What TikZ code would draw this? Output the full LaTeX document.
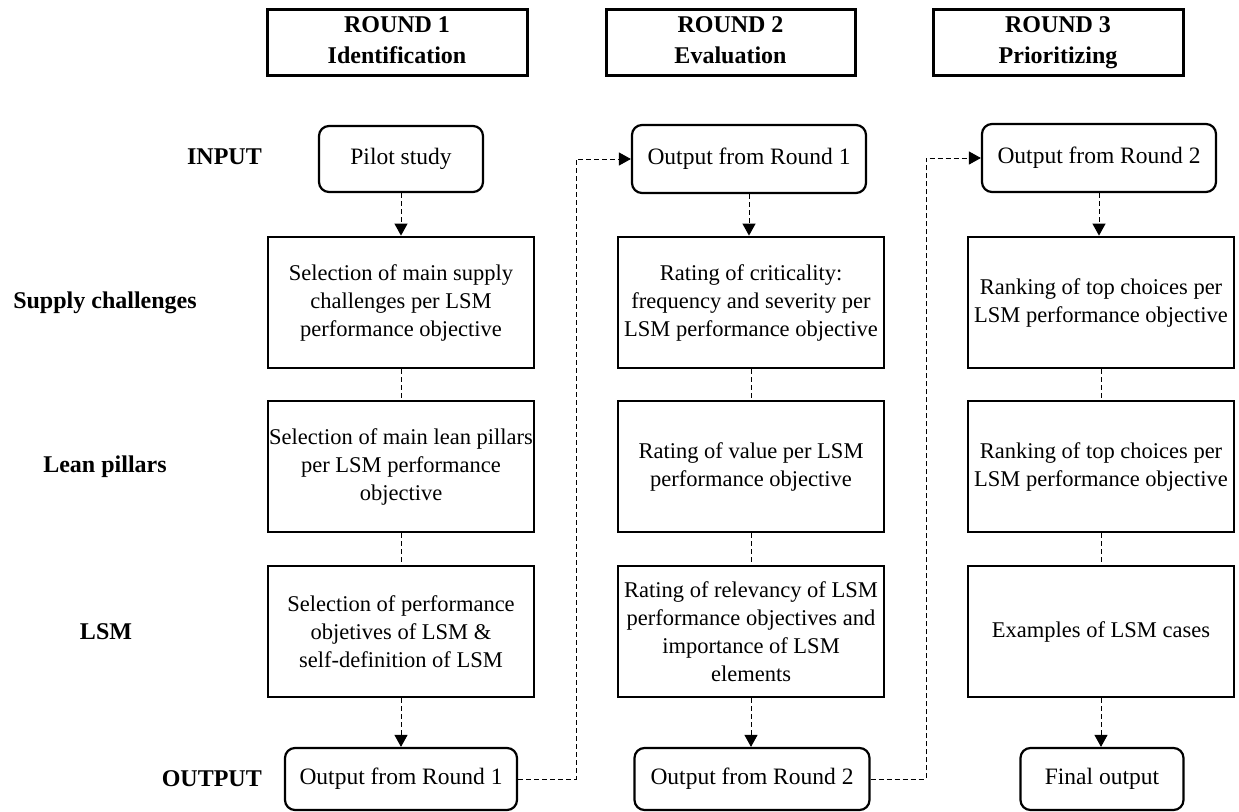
\documentclass[tikz,border=0pt]{standalone}
\usepackage{fontspec}
\setmainfont{Liberation Serif}
\usetikzlibrary{arrows.meta}
\begin{document}
\begin{tikzpicture}[x=1pt,y=-1pt,
 mainbox/.style={draw, line width=2.8pt, minimum width=266pt, minimum height=131pt, align=center, inner sep=0pt, font=\fontsize{22.5}{28}\selectfont},
 roundbox/.style={draw, line width=2.2pt, rounded corners=10pt, align=center, inner sep=0pt, font=\fontsize{23.5}{28}\selectfont},
 headbox/.style={draw, line width=3pt, align=center, inner sep=0pt, minimum height=66pt, font=\bfseries\fontsize{24}{31}\selectfont},
 rowlabel/.style={inner sep=0pt, font=\bfseries\fontsize{24}{28}\selectfont},
 dashline/.style={line width=1pt, dash pattern=on 5pt off 3pt},
 dasharrow/.style={dashline, -{Triangle[width=13pt,length=12pt]}},
]
\useasboundingbox (0,0) rectangle (1239,811);

% headers
\node[headbox, minimum width=260pt] (h1) at (397,42) {ROUND 1\strut\\Identification\strut};
\node[headbox, minimum width=249pt] (h2) at (730.5,42) {ROUND 2\strut\\Evaluation\strut};
\node[headbox, minimum width=250pt] (h3) at (1058,42) {ROUND 3\strut\\Prioritizing\strut};

% row labels
\node[rowlabel, anchor=east] (linput) at (262,157) {INPUT};
\node[rowlabel] (lsupply) at (105,302.5) {Supply challenges};
\node[rowlabel] (llean) at (105,466.5) {Lean pillars};
\node[rowlabel] (llsm) at (106,631.5) {LSM};
\node[rowlabel, anchor=east] (loutput) at (262,779) {OUTPUT};

% input boxes
\node[roundbox, minimum width=164pt, minimum height=66pt] (pilot) at (401,159) {Pilot study};
\node[roundbox, minimum width=234pt, minimum height=68pt] (outA) at (749,159) {Output from Round 1};
\node[roundbox, minimum width=234pt, minimum height=68pt] (outB) at (1099,158) {Output from Round 2};

% column 1
\node[mainbox] (a1) at (401,302.5) {Selection of main supply\\challenges per LSM\\performance objective};
\node[mainbox] (a2) at (401,466.5) {Selection of main lean pillars\\per LSM performance\\objective};
\node[mainbox] (a3) at (401,631.5) {Selection of performance\\objetives of LSM \&\\self-definition of LSM};

% column 2
\node[mainbox] (b1) at (751,302.5) {Rating of criticality:\\frequency and severity per\\LSM performance objective};
\node[mainbox] (b2) at (751,466.5) {Rating of value per LSM\\performance objective};
\node[mainbox] (b3) at (751,631.5) {Rating of relevancy of LSM\\performance objectives and\\importance of LSM\\elements};

% column 3
\node[mainbox] (c1) at (1101,302.5) {Ranking of top choices per\\LSM performance objective};
\node[mainbox] (c2) at (1101,466.5) {Ranking of top choices per\\LSM performance objective};
\node[mainbox] (c3) at (1101,631.5) {Examples of LSM cases};

% outputs
\node[roundbox, minimum width=232pt, minimum height=62pt] (out1) at (401,779) {Output from Round 1};
\node[roundbox, minimum width=235pt, minimum height=62pt] (out2) at (752,779) {Output from Round 2};
\node[roundbox, minimum width=163pt, minimum height=62pt] (final) at (1102,779) {Final output};

% vertical connectors
\draw[dasharrow] (pilot) -- (pilot |- a1.north);
\draw[dashline] (a1) -- (a2);
\draw[dashline] (a2) -- (a3);
\draw[dasharrow] (a3) -- (a3 |- out1.north);

\draw[dasharrow] (outA) -- (outA |- b1.north);
\draw[dashline] (b1) -- (b2);
\draw[dashline] (b2) -- (b3);
\draw[dasharrow] (b3) -- (b3 |- out2.north);

\draw[dasharrow] (outB) -- (outB |- c1.north);
\draw[dashline] (c1) -- (c2);
\draw[dashline] (c2) -- (c3);
\draw[dasharrow] (c3) -- (c3 |- final.north);

% elbow connectors
\coordinate (k1) at (576,0);
\coordinate (k2) at (926,0);
\draw[dasharrow] (out1.east) -- (out1.east -| k1) -- (k1 |- outA.west) -- (outA.west);
\draw[dasharrow] (out2.east) -- (out2.east -| k2) -- (k2 |- outB.west) -- (outB.west);
\end{tikzpicture}
\end{document}
